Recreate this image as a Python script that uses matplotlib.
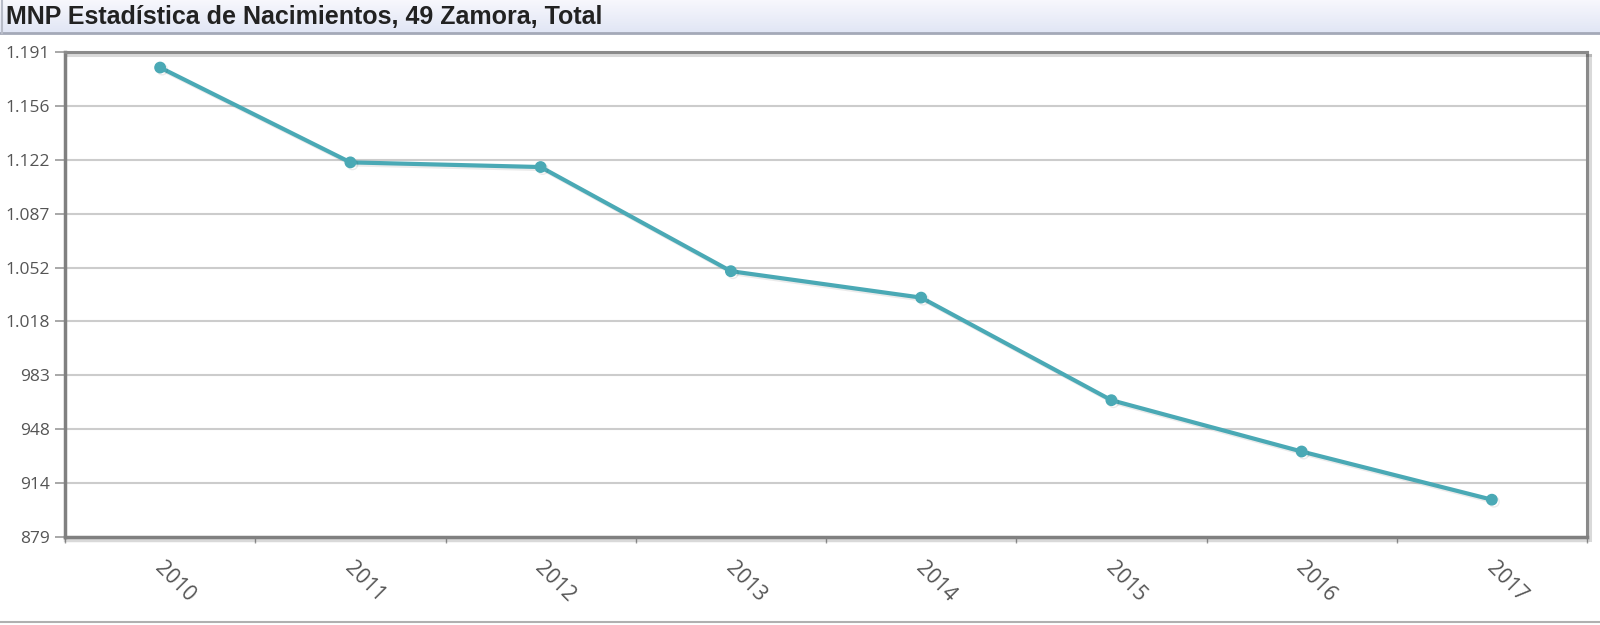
import numpy as np
import matplotlib
matplotlib.use("Agg")
import matplotlib.pyplot as plt
import matplotlib.patheffects as pe
import matplotlib.transforms as mtransforms

# ---- data ----
years = ["2010", "2011", "2012", "2013", "2014", "2015", "2016", "2017"]
births = [1181, 1120, 1117, 1050, 1033, 967, 934, 903]
y_min, y_max = 879, 1191
y_tick_labels = ["879", "914", "948", "983", "1.018", "1.052", "1.087", "1.122", "1.156", "1.191"]
title = "MNP Estadística de Nacimientos, 49 Zamora, Total"

W, H = 1600, 625
fig = plt.figure(figsize=(W / 100, H / 100), dpi=100)
fig.patch.set_facecolor("white")

# ---- title bar with gradient ----
bar_bot = 33
bax = fig.add_axes([0, 1 - bar_bot / H, 1, bar_bot / H])
grad = np.linspace(0, 1, 64)[:, None]
c_top = np.array([0.97, 0.97, 0.99])
c_bot = np.array([0.88, 0.90, 0.96])
img = c_top[None, None, :] * (1 - grad[..., None]) + c_bot[None, None, :] * grad[..., None]
img = np.repeat(img, 2, axis=1)
bax.imshow(img, aspect="auto", extent=[0, 1, 0, 1], origin="upper")
bax.set_xlim(0, 1)
bax.set_ylim(0, 1)
bax.axis("off")
fig.add_artist(plt.Line2D([0, 1], [1 - bar_bot / H, 1 - bar_bot / H], transform=fig.transFigure,
                          color="#a4a9b8", lw=2))
fig.add_artist(plt.Line2D([0.001, 0.001], [1 - bar_bot / H, 1], transform=fig.transFigure,
                          color="#b8bcc8", lw=1.5))
fig.text(6 / W, 1 - 17 / H, title, fontsize=18, fontweight="bold", family="Liberation Sans",
         color="#222222", va="center", ha="left")

# bottom line of the panel
fig.add_artist(plt.Line2D([0, 1], [1 - 622 / H, 1 - 622 / H], transform=fig.transFigure,
                          color="#b0b0b0", lw=1.5))

# ---- plot area ----
left, right, top, bottom = 65, 1587, 52, 537
ax = fig.add_axes([left / W, 1 - bottom / H, (right - left) / W, (bottom - top) / H])
x = np.arange(len(years))
ax.set_xlim(-0.5, len(years) - 0.5)
ax.set_ylim(y_min, y_max)

yt = np.linspace(y_min, y_max, len(y_tick_labels))
ax.set_yticks(yt)
ax.set_yticklabels(y_tick_labels)
for v in yt[1:-1]:
    ax.axhline(v, color="#cccccc", lw=1.5, zorder=1)

line_color = "#4aa9b5"
ax.plot(x, births, color=line_color, lw=3, marker="o", ms=7.5, zorder=3,
        solid_capstyle="round",
        path_effects=[pe.SimpleLineShadow(offset=(1.5, -1.5), shadow_color="#000000", alpha=0.08),
                      pe.Normal()])

# x ticks: labels at centers, tick marks at boundaries
ax.set_xticks(x)
ax.set_xticklabels(years)
ax.tick_params(axis="x", which="major", length=0, pad=15)
ax.set_xticks(np.arange(-0.5, len(years) + 0.5, 1), minor=True)
ax.tick_params(axis="x", which="minor", length=4, width=1, color="#999999", direction="out")
shift = mtransforms.ScaledTranslation(5 / 100, 0, fig.dpi_scale_trans)
for lab in ax.get_xticklabels():
    lab.set_rotation(-45)
    lab.set_ha("left")
    lab.set_va("top")
    lab.set_rotation_mode("anchor")
    lab.set_family("Open Sans")
    lab.set_fontsize(15)
    lab.set_color("#555555")
    lab.set_transform(lab.get_transform() + shift)

ax.tick_params(axis="y", length=7, width=1.2, color="#999999", pad=4, labelsize=12.5,
               labelcolor="#555555")
for lab in ax.get_yticklabels():
    lab.set_family("Open Sans")

for s in ["left", "bottom"]:
    ax.spines[s].set_color("#808080")
    ax.spines[s].set_linewidth(2.5)
for s in ["top", "right"]:
    ax.spines[s].set_color("#8a8a8a")
    ax.spines[s].set_linewidth(2.2)
    ax.spines[s].set_path_effects([pe.SimpleLineShadow(offset=(2, -2), alpha=0.15), pe.Normal()])
ax.spines["bottom"].set_path_effects([pe.SimpleLineShadow(offset=(0, -2), alpha=0.15), pe.Normal()])

fig.savefig("out.png", dpi=100, facecolor="white")
